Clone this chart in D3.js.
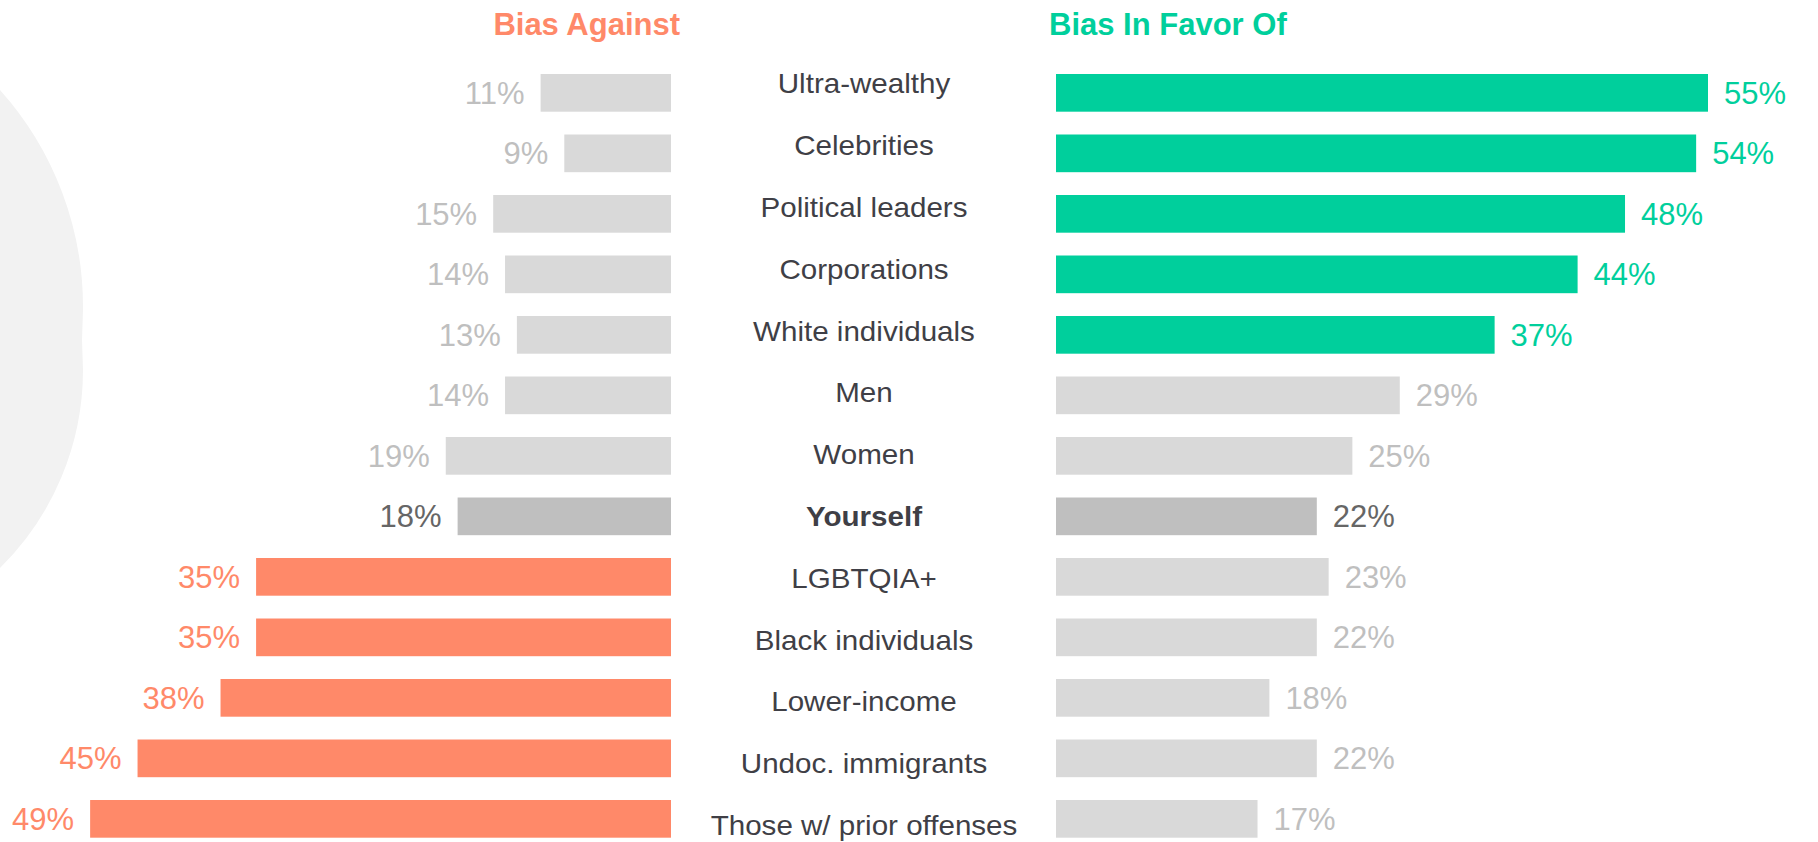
<!DOCTYPE html>
<html><head><meta charset="utf-8">
<script src="https://cdn.jsdelivr.net/npm/d3@7"></script>
<style>html,body{margin:0;padding:0;background:#fff;overflow:hidden}</style>
</head><body>
<svg id="chart" width="1818" height="842"></svg>
<script>
const categories = ["Ultra-wealthy","Celebrities","Political leaders","Corporations","White individuals","Men","Women","Yourself","LGBTQIA+","Black individuals","Lower-income","Undoc. immigrants","Those w/ prior offenses"];
const biasAgainst = [11,9,15,14,13,14,19,18,35,35,38,45,49];
const biasInFavor = [55,54,48,44,37,29,25,22,23,22,18,22,17];
const againstHighlight = ["LGBTQIA+","Black individuals","Lower-income","Undoc. immigrants","Those w/ prior offenses"];
const favorHighlight = ["Ultra-wealthy","Celebrities","Political leaders","Corporations","White individuals"];
const selfCategory = "Yourself";
const titles = ["Bias Against","Bias In Favor Of"];

const ORANGE = "#FF8969", GREEN = "#00CF9C", LIGHT = "#D9D9D9", SELF = "#BFBFBF";
const svg = d3.select("#chart");

// background decoration
svg.append("path")
  .attr("d","M-5,88 L0,90 A325,325 0 0 1 83,310 L82,340 L83,370 A278,278 0 0 1 0,568 L-5,568 Z")
  .attr("fill","#F2F2F2");

const y = d3.scaleBand().domain(categories).range([74, 837.7]).paddingInner(0.377).paddingOuter(0);
const yLab = d3.scalePoint().domain(categories).range([93.4, 835]);
const w = d3.scaleLinear().domain([0, 55]).range([0, 652]);
const leftEdge = 671, rightEdge = 1056, labelX = 864;

const rows = categories.map((c,i)=>({c, a: biasAgainst[i], f: biasInFavor[i]}));

function aColor(d){ return d.c===selfCategory ? SELF : (againstHighlight.includes(d.c) ? ORANGE : LIGHT); }
function fColor(d){ return d.c===selfCategory ? SELF : (favorHighlight.includes(d.c) ? GREEN : LIGHT); }
function aText(d){ return d.c===selfCategory ? "#666666" : (againstHighlight.includes(d.c) ? ORANGE : "#BFBFBF"); }
function fText(d){ return d.c===selfCategory ? "#666666" : (favorHighlight.includes(d.c) ? GREEN : "#BFBFBF"); }

// left bars
svg.append("g").selectAll("rect").data(rows).join("rect")
  .attr("x", d=>leftEdge - w(d.a)).attr("y", d=>y(d.c))
  .attr("width", d=>w(d.a)).attr("height", y.bandwidth())
  .attr("fill", aColor);
svg.append("g").selectAll("text").data(rows).join("text")
  .attr("x", d=>leftEdge - w(d.a) - 16).attr("y", d=>y(d.c)+y.bandwidth()/2+11)
  .attr("text-anchor","end").attr("font-family","'Liberation Sans', Arial, sans-serif")
  .attr("font-size",31).attr("fill", aText).text(d=>d.a+"%");

// right bars
svg.append("g").selectAll("rect").data(rows).join("rect")
  .attr("x", rightEdge).attr("y", d=>y(d.c))
  .attr("width", d=>w(d.f)).attr("height", y.bandwidth())
  .attr("fill", fColor);
svg.append("g").selectAll("text").data(rows).join("text")
  .attr("x", d=>rightEdge + w(d.f) + 16).attr("y", d=>y(d.c)+y.bandwidth()/2+11)
  .attr("text-anchor","start").attr("font-family","'Liberation Sans', Arial, sans-serif")
  .attr("font-size",31).attr("fill", fText).text(d=>d.f+"%");

// category labels
svg.append("g").selectAll("text").data(rows).join("text")
  .attr("transform", d=>`translate(${labelX},${yLab(d.c)}) scale(1.056,1)`)
  .attr("text-anchor","middle").attr("font-family","'Liberation Sans', Arial, sans-serif")
  .attr("font-size",28).attr("font-weight", d=>d.c===selfCategory?"bold":"normal")
  .attr("fill","#3F3F46").text(d=>d.c);

// titles
svg.append("text").attr("x",680).attr("y",35).attr("text-anchor","end")
  .attr("font-family","'Liberation Sans', Arial, sans-serif").attr("font-size",31).attr("font-weight","bold")
  .attr("fill",ORANGE).text(titles[0]);
svg.append("text").attr("x",1049).attr("y",35).attr("text-anchor","start")
  .attr("font-family","'Liberation Sans', Arial, sans-serif").attr("font-size",31).attr("font-weight","bold")
  .attr("fill",GREEN).text(titles[1]);
</script>
</body></html>
